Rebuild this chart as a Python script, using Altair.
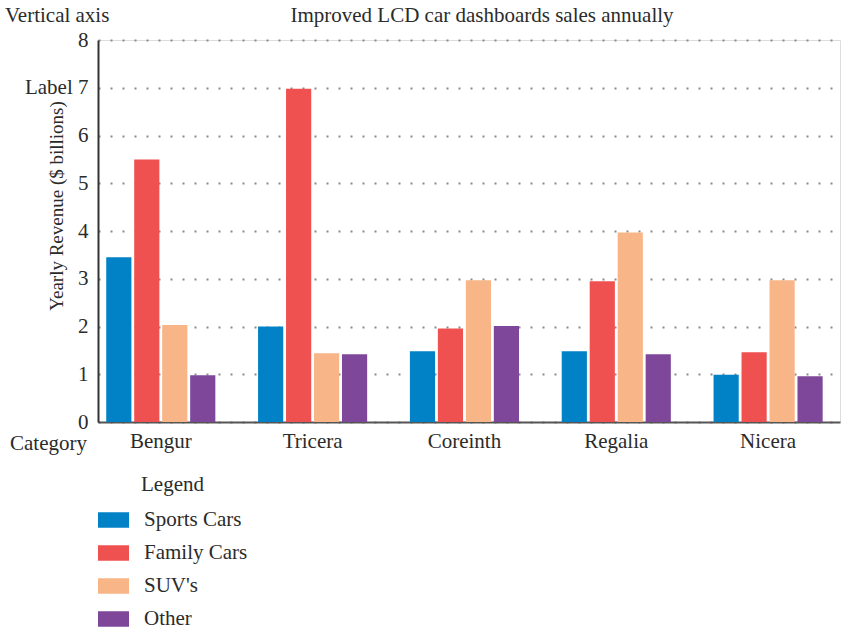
import altair as alt
import pandas as pd

categories = ["Bengur", "Tricera", "Coreinth", "Regalia", "Nicera"]
series = ["Sports Cars", "Family Cars", "SUV's", "Other"]
sports = [3.45, 2.0, 1.48, 1.48, 0.99]
family = [5.5, 6.98, 1.96, 2.95, 1.46]
suvs = [2.03, 1.44, 2.97, 3.97, 2.97]
other = [0.98, 1.42, 2.01, 1.42, 0.96]
colors = ["#0282c6", "#ef5150", "#f8b587", "#7e479a"]

rows = []
for s, vals in zip(series, [sports, family, suvs, other]):
    for c, v in zip(categories, vals):
        rows.append({"category": c, "series": s, "value": v})
df = pd.DataFrame(rows)

FONT = "Liberation Serif"
FS = 21
TXT = "#2b2b2b"
W, H = 742, 382

bars = alt.Chart(df).mark_bar().encode(
    x=alt.X("category:N", sort=categories,
            scale=alt.Scale(paddingInner=0.263, paddingOuter=0.075, align=0.3),
            axis=alt.Axis(title=None, labelAngle=0, ticks=False, labelPadding=8,
                          labelFontSize=FS, labelFont=FONT, labelColor=TXT,
                          domainColor="#555555", domainWidth=2)),
    xOffset=alt.XOffset("series:N", sort=series,
                        scale=alt.Scale(paddingInner=0.1, paddingOuter=0.05)),
    y=alt.Y("value:Q", scale=alt.Scale(domain=[0, 8]),
            axis=alt.Axis(title=None, values=list(range(9)), ticks=False,
                          labelPadding=10, labelFontSize=FS, labelFont=FONT,
                          labelColor=TXT, domainColor="#333333", domainWidth=2,
                          grid=True, gridDash=[2, 10], gridColor="#8a8a8a",
                          gridWidth=2,
                          labelExpr="datum.value == 7 ? 'Label 7' : datum.label")),
    color=alt.Color("series:N", sort=series,
                    scale=alt.Scale(domain=series, range=colors),
                    legend=alt.Legend(title=None, orient="none", legendX=0,
                                      legendY=464.5, direction="vertical",
                                      symbolType="M-1,-0.5H1V0.5H-1Z",
                                      symbolSize=961, symbolStrokeWidth=0,
                                      symbolOpacity=1,
                                      labelFontSize=FS, labelFont=FONT,
                                      labelColor=TXT, labelOffset=15,
                                      rowPadding=7, padding=0)),
)


def label(text, x, y, align="left", angle=0, size=FS):
    return alt.Chart(pd.DataFrame({"t": [text]})).mark_text(
        font=FONT, fontSize=size, color=TXT, align=align, baseline="middle",
        angle=angle,
    ).encode(text="t:N", x=alt.value(x), y=alt.value(y))


title = label("Improved LCD car dashboards sales annually", 384, -24, "center")
vaxis = label("Vertical axis", -93, -24, "left")
cat = label("Category", -11, 22 + H, "right")
ytitle = label("Yearly Revenue ($ billions)", -41, 166, "center", 270, 19)
legtitle = label("Legend", 43, 445, "left")

chart = alt.layer(bars, title, vaxis, cat, ytitle, legtitle).properties(
    width=W, height=H,
    autosize=alt.AutoSizeParams(type="none"),
    padding={"left": 98, "top": 40, "right": 13, "bottom": 209},
).configure_view(stroke=None).configure(background="white")

chart.save("out.html", embed_options={"renderer": "svg", "actions": False})
